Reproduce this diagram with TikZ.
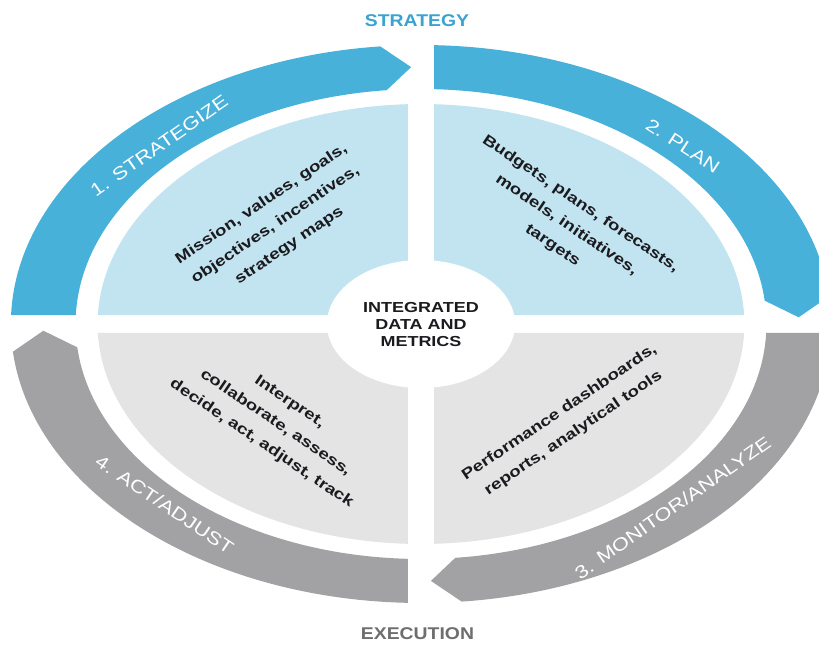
\documentclass[tikz,border=0pt]{standalone}
\usepackage{fontspec}
\setmainfont{Liberation Sans}
\newfontfamily\lblfont[FakeStretch=1.22]{Liberation Sans}
\newfontfamily\txtfont[FakeStretch=1.25]{Liberation Sans}
\newfontfamily\hdrfont[FakeStretch=1.14]{Liberation Sans}
\newfontfamily\ctrfont[FakeStretch=1.24]{Liberation Sans}

\definecolor{bandblue}{HTML}{48B1DA}
\definecolor{quadblue}{HTML}{C2E4F1}
\definecolor{bandgray}{HTML}{A2A2A4}
\definecolor{quadgray}{HTML}{E4E4E5}
\definecolor{stratblue}{HTML}{3AA3CF}
\definecolor{execgray}{HTML}{6E6E6E}
\definecolor{inktext}{HTML}{1B1B1F}

\begin{document}
\begin{tikzpicture}[x=1pt,y=1pt,
  innertext/.style={align=center, text=inktext, inner sep=0pt,
    font=\txtfont\bfseries\fontsize{15}{25}\selectfont},
  bandlabel/.style={text=white, inner sep=0pt,
    font=\lblfont\fontsize{18}{20}\selectfont},
  header/.style={inner sep=0pt, font=\hdrfont\bfseries\fontsize{17}{20}\selectfont},
  coretext/.style={align=center, text=inktext, inner sep=0pt,
    font=\ctrfont\bfseries\fontsize{14.5}{17}\selectfont}]

\useasboundingbox (-421,-321) rectangle (398,324);
\fill[white] (-421,-321) rectangle (398,324);

% circular layout, stretched horizontally
\begin{scope}[xscale=1.47]
  % four inner quadrants separated by a white cross
  \def\Q{220}
  \def\g{9}
  \fill[quadblue] (-\g,\g) -- ({90+asin(\g/\Q)}:\Q)
    arc[start angle={90+asin(\g/\Q)}, end angle={180-asin(\g/\Q)}, radius=\Q] -- cycle;
  \fill[quadblue] (\g,\g) -- ({asin(\g/\Q)}:\Q)
    arc[start angle={asin(\g/\Q)}, end angle={90-asin(\g/\Q)}, radius=\Q] -- cycle;
  \fill[quadgray] (\g,-\g) -- ({-90+asin(\g/\Q)}:\Q)
    arc[start angle={-90+asin(\g/\Q)}, end angle={-asin(\g/\Q)}, radius=\Q] -- cycle;
  \fill[quadgray] (-\g,-\g) -- ({180+asin(\g/\Q)}:\Q)
    arc[start angle={180+asin(\g/\Q)}, end angle={270-asin(\g/\Q)}, radius=\Q] -- cycle;

  % central disc
  \fill[white] (0,0) circle[radius=64];

  % outer ring: four clockwise arrow bands, flat tail and pointed head
  \foreach \S/\col in {180/bandblue, 90/bandblue, 0/bandgray, -90/bandgray} {
    \pgfmathsetmacro\E{\S-90}
    \fill[\col] ({\S-asin(9/279)}:279)
      arc[start angle={\S-asin(9/279)}, end angle={\E+5.7}, radius=279]
      -- ({\E+1.5}:257) -- ({\E+5.7}:235)
      arc[start angle={\E+5.7}, end angle={\S-asin(9/235)}, radius=235] -- cycle;
  }

  % band labels
  \node[bandlabel, rotate=35] (lbl1) at (135:252) {1. STRATEGIZE};
  \node[bandlabel, rotate=-33] (lbl2) at (45:252) {2. PLAN};
  \node[bandlabel, rotate=35] (lbl3) at (313:251) {3. MONITOR/ANALYZE};
  \node[bandlabel, rotate=-34] (lbl4) at (226:251) {4. ACT/ADJUST};

  % quadrant contents
  \node[innertext, rotate=34] (q1) at (135:140)
    {Mission, values, goals,\\objectives, incentives,\\strategy maps};
  \node[innertext, rotate=-34] (q2) at (45:140)
    {Budgets, plans, forecasts,\\models, initiatives,\\targets};
  \node[innertext, rotate=34] (q3) at (315:140)
    {Performance dashboards,\\reports, analytical tools};
  \node[innertext, rotate=-34] (q4) at (225:140)
    {Interpret,\\collaborate, assess,\\decide, act, adjust, track};
\end{scope}

\node[coretext] (core) at (0,-1) {INTEGRATED\\DATA AND\\METRICS};
\node[header, text=stratblue] (strat) at (-4,303) {STRATEGY};
\node[header, text=execgray] (exec) at (-3.5,-310) {EXECUTION};
\end{tikzpicture}
\end{document}
